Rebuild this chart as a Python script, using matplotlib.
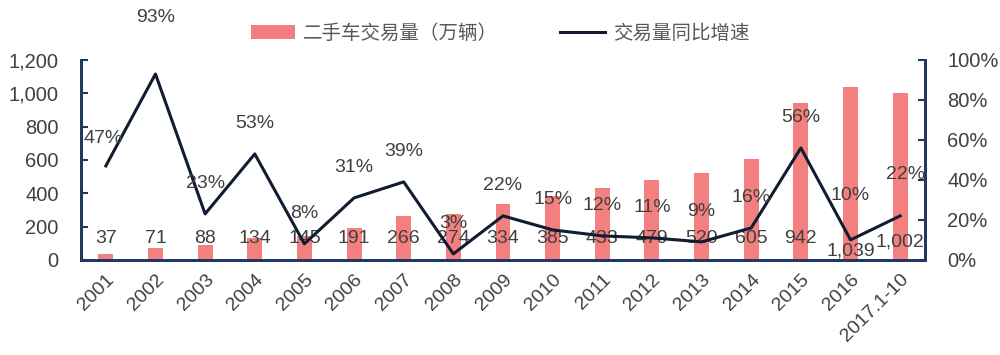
import matplotlib.pyplot as plt
import numpy as np

plt.rcParams['font.family'] = ['Liberation Sans', 'Noto Sans CJK SC']

years = ["2001", "2002", "2003", "2004", "2005", "2006", "2007", "2008", "2009",
         "2010", "2011", "2012", "2013", "2014", "2015", "2016", "2017.1-10"]
volume = [37, 71, 88, 134, 145, 191, 266, 274, 334, 385, 433, 479, 520, 605, 942, 1039, 1002]
growth = [47, 93, 23, 53, 8, 31, 39, 3, 22, 15, 12, 11, 9, 16, 56, 10, 22]

bar_color = "#F3807E"
line_color = "#101c30"
spine_color = "#1F3864"
text_color = "#404040"

fig = plt.figure(figsize=(10, 3.55), dpi=100)
ax = fig.add_axes([0.081, 0.268, 0.844, 0.563])
ax2 = ax.twinx()

x = np.arange(len(years))
bars = ax.bar(x, volume, width=0.3, color=bar_color, zorder=1, label="二手车交易量（万辆）")
ln, = ax2.plot(x, growth, color=line_color, lw=2.2, zorder=3, label="交易量同比增速")

ax.set_xlim(-0.5, len(years) - 0.5)
ax.set_ylim(0, 1200)
ax.set_yticks(range(0, 1201, 200))
ax.set_yticklabels([f"{v:,}" for v in range(0, 1201, 200)])
ax2.set_ylim(0, 100)
ax2.set_yticks(range(0, 101, 20))
ax2.set_yticklabels([f"{v}%" for v in range(0, 101, 20)])

ax.set_xticks(x)
ax.set_xticklabels(years, rotation=45, ha="right", rotation_mode="anchor")

for a in (ax, ax2):
    a.spines["top"].set_visible(False)
    for s in ("left", "right", "bottom"):
        a.spines[s].set_color(spine_color)
        a.spines[s].set_linewidth(2)
    a.tick_params(axis="y", direction="in", length=5, width=1.5, color=spine_color,
                  labelsize=14.5, labelcolor=text_color, pad=16)
ax.tick_params(axis="x", length=0, labelsize=14, labelcolor=text_color, pad=8)

# volume labels near the base of the bars
for i, v in enumerate(volume):
    yl = 55 if i == 15 else (110 if i == 16 else 130)
    ax.text(i, yl, f"{v:,}", ha="center", va="center", fontsize=14, color=text_color, zorder=4)

# growth labels above the line points
offsets = {0: (-2, 20), 1: (0, 41), 15: (0, 32), 16: (4, 30)}
for i, g in enumerate(growth):
    dx, dy = offsets.get(i, (0, 22))
    ax2.annotate(f"{g}%", (i, g), xytext=(dx, dy), textcoords="offset points",
                 ha="center", va="center", fontsize=14, color=text_color)

fig.legend([bars, ln], [bars.get_label(), ln.get_label()], loc="center",
           bbox_to_anchor=(0.5, 0.905), ncol=2, frameon=False, fontsize=14,
           labelcolor="#595959", handlelength=2.3, handletextpad=0.4, columnspacing=3.2)

fig.savefig("out.png", dpi=100)
